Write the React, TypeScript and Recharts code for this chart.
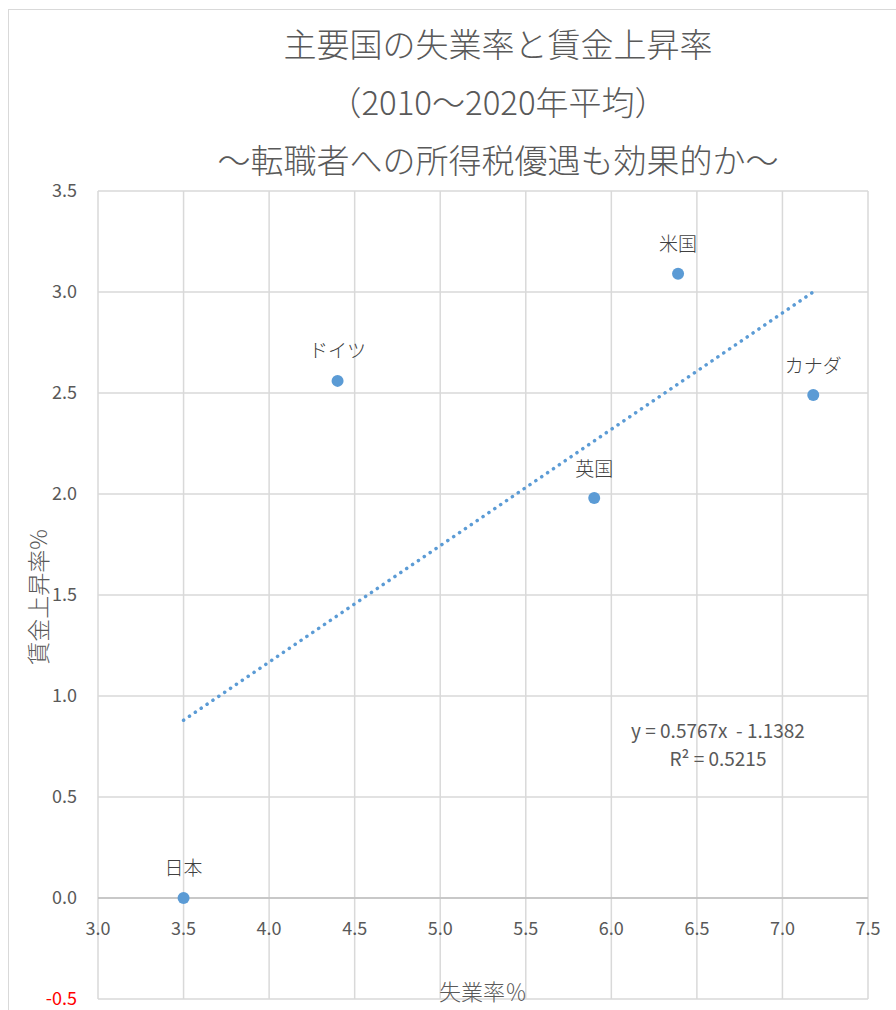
import React from 'react';
import { CartesianGrid, LabelList, ReferenceLine, Scatter, ScatterChart, XAxis, YAxis } from 'recharts';

// 主要国の失業率と賃金上昇率 (2010〜2020年平均)
const countries = ['日本', 'ドイツ', '英国', '米国', 'カナダ'];
const unemployment = [3.5, 4.4, 5.9, 6.39, 7.18];
const wageGrowth = [0.0, 2.56, 1.98, 3.09, 2.49];

// trendline endpoints (y = 0.5767x - 1.1382)
const trendX = [3.5, 7.18];
const trendY = [0.88, 3.0];

const xTicks = [3.0, 3.5, 4.0, 4.5, 5.0, 5.5, 6.0, 6.5, 7.0, 7.5];
const yTicks = [-0.5, 0.0, 0.5, 1.0, 1.5, 2.0, 2.5, 3.0, 3.5];

const titleLines = ['主要国の失業率と賃金上昇率', '（2010～2020年平均）', '～転職者への所得税優遇も効果的か～'];

const points = countries.map((name, i) => ({ name, x: unemployment[i], y: wageGrowth[i] }));
const trend = trendX.map((x, i) => ({ x, y: trendY[i] }));

const FONT = '"Noto Sans CJK JP", "Noto Sans", sans-serif';
const BLUE = '#5b9bd5';
const GRAY = '#595959';

function YTick({ x, y, payload }: any) {
  const v = Number(payload.value);
  return (
    <text x={x} y={y} dy={6} textAnchor="end" fontSize={18} fontFamily={FONT} fill={v < 0 ? '#ff0000' : GRAY}>
      {v.toFixed(1)}
    </text>
  );
}

// x labels sit under the 0.0 line (Excel axis crossing), not at the plot bottom
function XTick({ x, y, payload }: any) {
  return (
    <text x={x} y={y - 64} textAnchor="middle" fontSize={18} fontFamily={FONT} fill={GRAY}>
      {Number(payload.value).toFixed(1)}
    </text>
  );
}

const Dot = (props: any) => <circle cx={props.cx} cy={props.cy} r={6} fill={BLUE} />;

export default function App() {
  return (
    <div style={{ position: 'absolute', left: 0, top: 0, width: 896, height: 1010, background: '#fff', fontFamily: FONT, overflow: 'hidden' }}>
      <div style={{ position: 'absolute', left: 8, top: 9, right: 0, height: 1, background: '#d9d9d9' }} />
      <div style={{ position: 'absolute', left: 8, top: 9, bottom: 0, width: 1, background: '#d9d9d9' }} />
      {titleLines.map((t, i) => (
        <div key={t} style={{ position: 'absolute', left: 100, width: 796, top: 22 + i * 58, textAlign: 'center', fontSize: 33, lineHeight: '42px', color: GRAY, fontWeight: 300 }}>
          {t}
        </div>
      ))}
      <ScatterChart width={896} height={1010} margin={{ top: 191, right: 28, bottom: 10, left: 0 }} style={{ position: 'absolute', left: 0, top: 0 }}>
        <CartesianGrid stroke="#d9d9d9" strokeWidth={1.5} />
        <XAxis type="number" dataKey="x" domain={[3, 7.5]} ticks={xTicks} height={1} axisLine={false} tickLine={false} tickSize={0} tickMargin={0} tick={<XTick />} interval={0} />
        <YAxis type="number" dataKey="y" domain={[-0.5, 3.5]} ticks={yTicks} width={98} axisLine={false} tickLine={false} tickSize={0} tickMargin={21} tick={<YTick />} interval={0} />
        <ReferenceLine y={0} stroke="#bfbfbf" strokeWidth={1.5} />
        <Scatter data={trend} fill="none" line={{ stroke: BLUE, strokeWidth: 3.5, strokeDasharray: '0.1 7', strokeLinecap: 'round' }} shape={() => null} isAnimationActive={false} />
        <Scatter data={points} fill={BLUE} shape={Dot} isAnimationActive={false}>
          <LabelList dataKey="name" position="top" offset={18} fontSize={19} fontWeight={300} fontFamily={FONT} fill="#404040" />
        </Scatter>
      </ScatterChart>
      <div style={{ position: 'absolute', left: 22, top: 597, width: 0, height: 0 }}>
        <div style={{ position: 'absolute', transform: 'translate(-50%, -50%) rotate(-90deg)', whiteSpace: 'nowrap', fontSize: 23, fontWeight: 300, color: GRAY, left: 15 }}>
          賃金上昇率%
        </div>
      </div>
      <div style={{ position: 'absolute', left: 383, width: 200, top: 975, textAlign: 'center', fontSize: 22, fontWeight: 300, lineHeight: '30px', color: GRAY }}>
        失業率％
      </div>
      <div style={{ position: 'absolute', left: 598, width: 240, top: 716, textAlign: 'center', fontSize: 19, lineHeight: '28px', color: GRAY }}>
        <div>y = 0.5767x&nbsp; - 1.1382</div>
        <div>R² = 0.5215</div>
      </div>
    </div>
  );
}
